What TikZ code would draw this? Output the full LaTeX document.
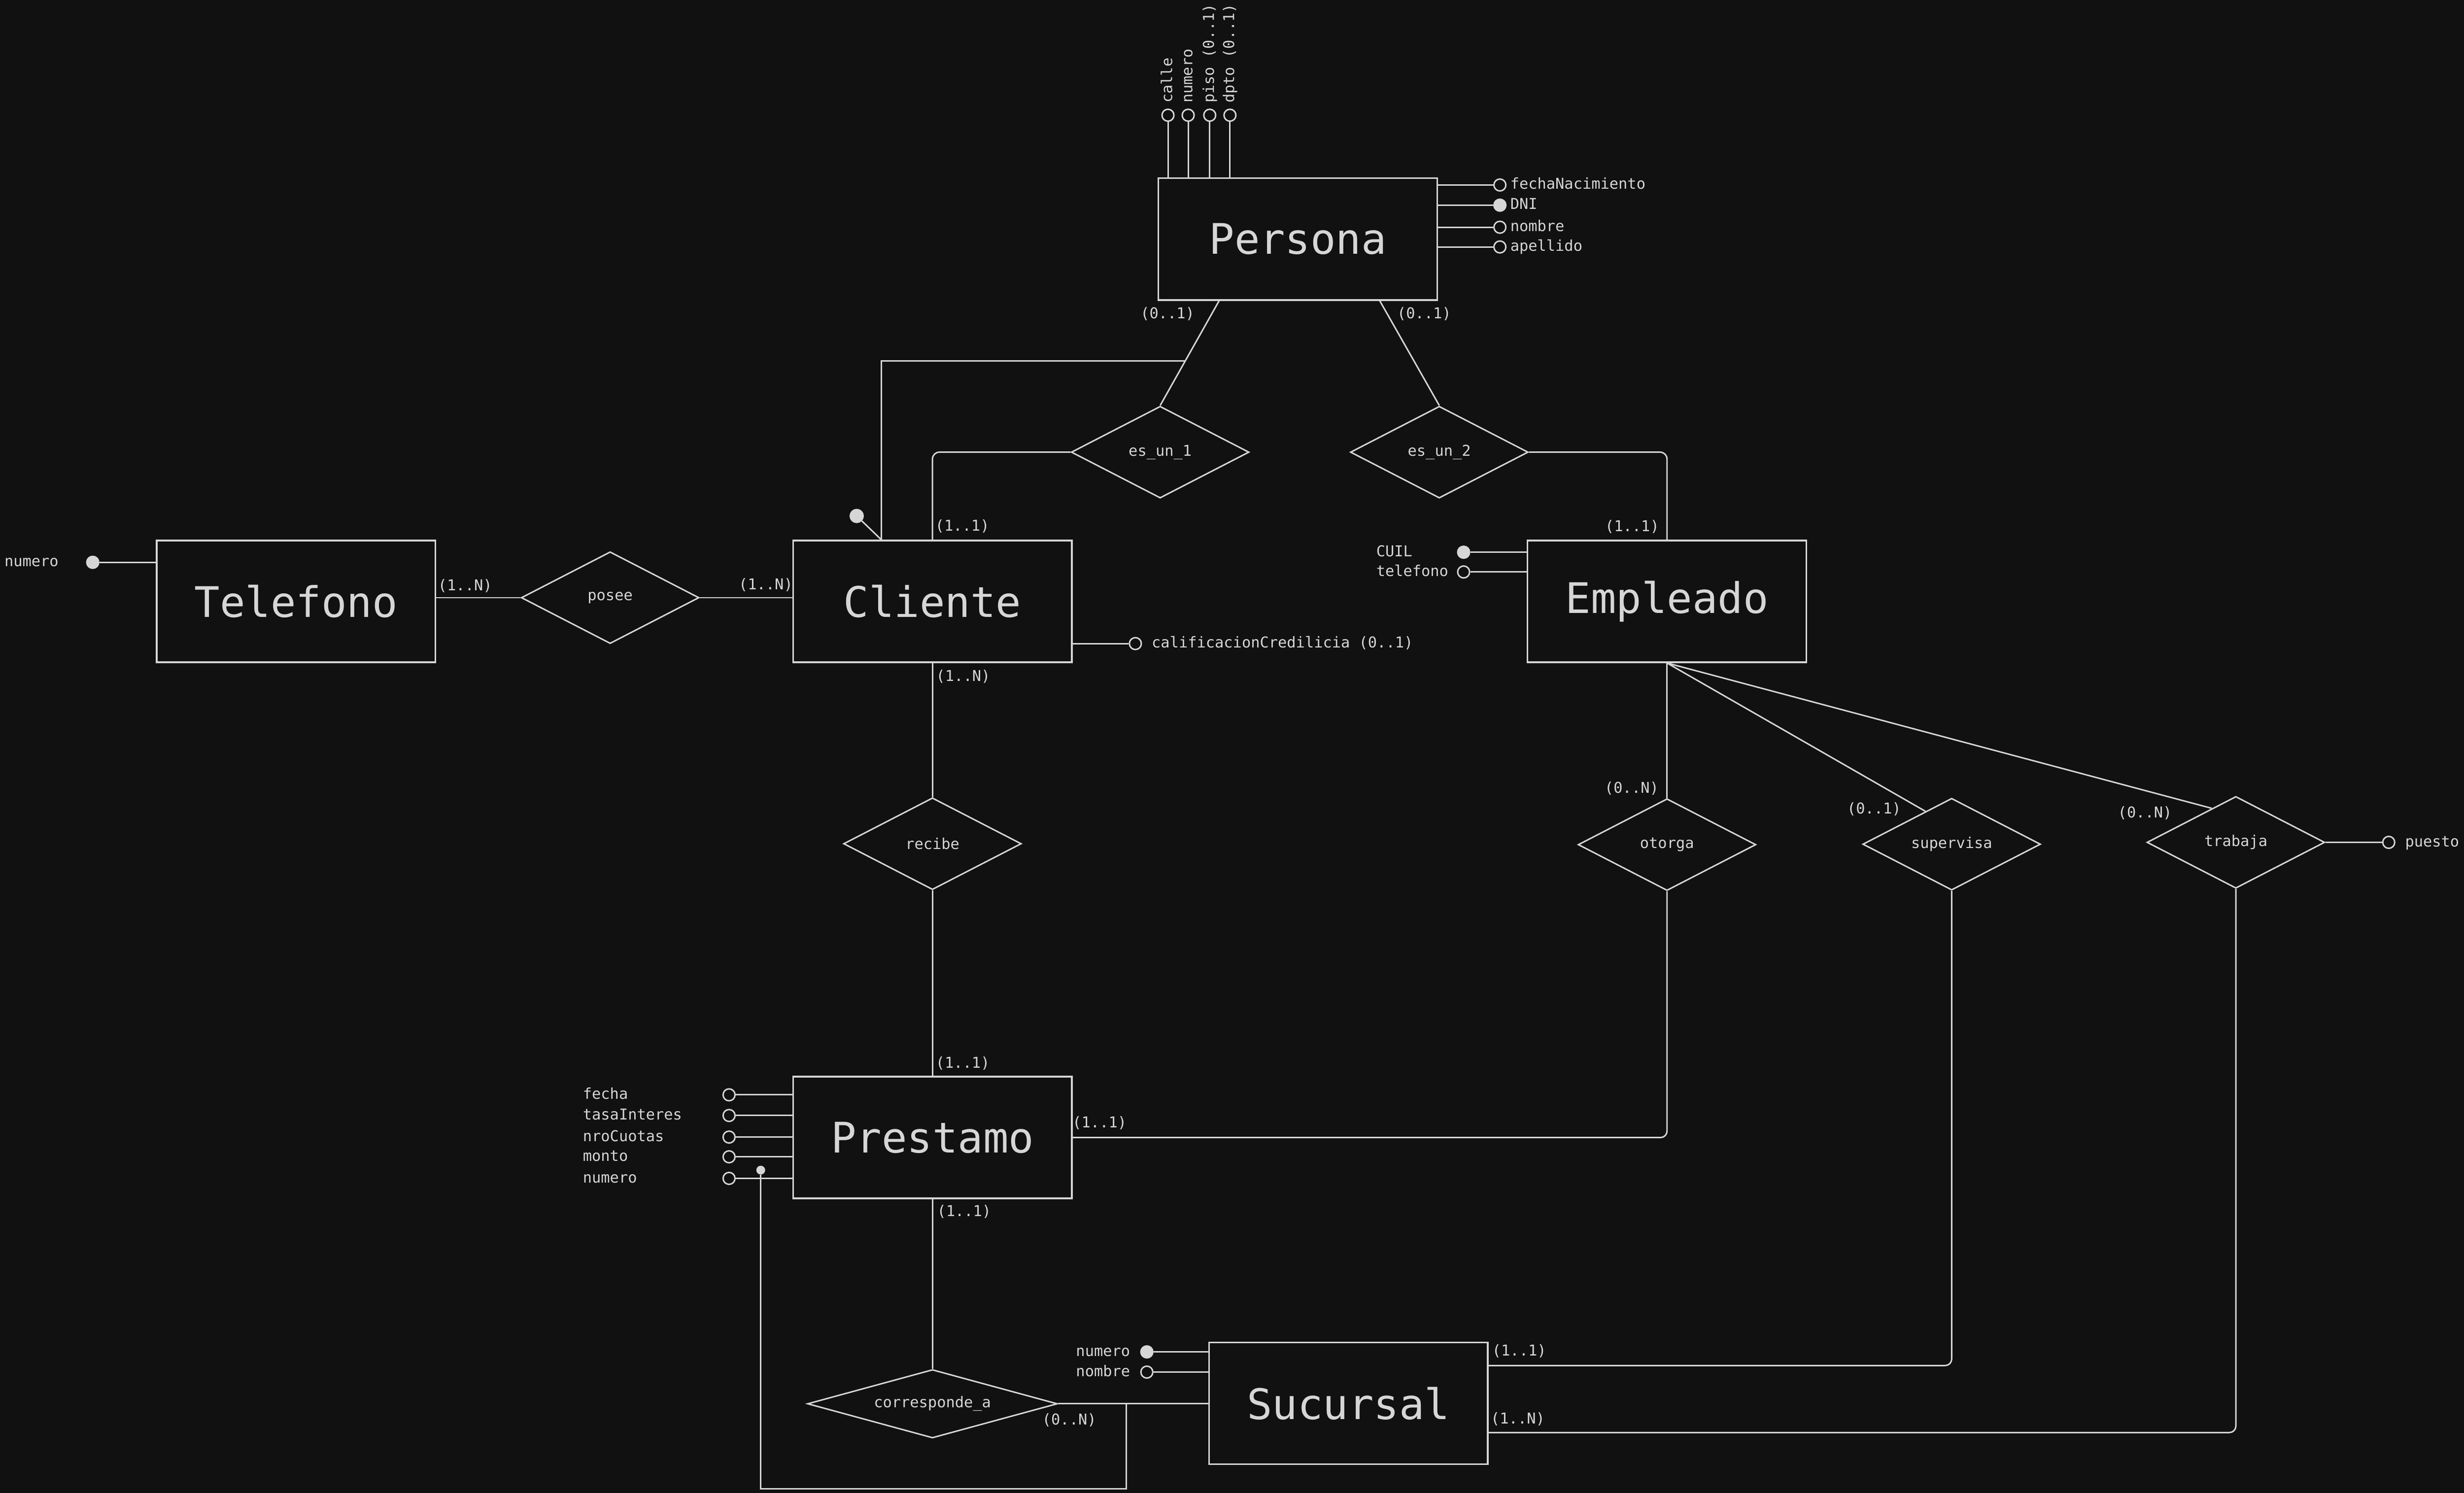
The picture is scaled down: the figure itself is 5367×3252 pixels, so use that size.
\documentclass[tikz,border=0pt]{standalone}
\usepackage{fontspec}
\newfontfamily\dm{DejaVu Sans Mono}
\usetikzlibrary{shapes.geometric,calc}
\definecolor{bg}{HTML}{111111}
\definecolor{fg}{HTML}{D6D6D6}
\begin{document}
\begin{tikzpicture}[x=0.01cm,y=-0.01cm,
  every node/.style={text=fg},
  line/.style={draw=fg, line width=0.9pt},
  entity/.style={draw=fg, line width=1pt, minimum width=6.07cm, minimum height=2.65cm, inner sep=0pt, font=\dm\fontsize{26.1pt}{30pt}\selectfont},
  rel/.style={diamond, aspect=2, draw=fg, line width=0.9pt, minimum width=3.87cm, minimum height=2cm, inner sep=0pt, font=\dm\fontsize{9.27pt}{11pt}\selectfont},
  lbl/.style={font=\dm\fontsize{9.27pt}{11pt}\selectfont, inner sep=0pt, text height=0.72em, text depth=0.2em},
  att/.style={circle, draw=fg, line width=0.9pt, minimum size=0.26cm, inner sep=0pt},
  key/.style={circle, draw=fg, fill=fg, line width=0.9pt, minimum size=0.26cm, inner sep=0pt},
]
\fill[bg] (0,0) rectangle (5367,3252);
\useasboundingbox (0,0) rectangle (5367,3252);

% entities
\node[entity] (persona) at (2827,521) {Persona};
\node[entity] (telefono) at (645,1310) {Telefono};
\node[entity] (cliente) at (2031,1310) {Cliente};
\node[entity] (empleado) at (3631,1310) {Empleado};
\node[entity] (prestamo) at (2031,2478) {Prestamo};
\node[entity] (sucursal) at (2937,3057) {Sucursal};

% relationships
\node[rel] (esun1) at (2527,985) {es\_un\_1};
\node[rel] (esun2) at (3135,985) {es\_un\_2};
\node[rel] (posee) at (1329,1302) {posee};
\node[rel] (recibe) at (2031,1838) {recibe};
\node[rel] (otorga) at (3631,1840) {otorga};
\node[rel] (supervisa) at (4251,1839) {supervisa};
\node[rel] (trabaja) at (4870,1835) {trabaja};
\node[rel, aspect=3.65, minimum width=5.44cm, minimum height=1.49cm] (corr) at (2031,3058) {corresponde\_a};

% connectors
\draw[line] (telefono.east |- posee.west) -- (posee.west);
\draw[line] (posee.east) -- (posee.east -| cliente.west);
\draw[line] (cliente.south) -- (recibe.north);
\draw[line] (recibe.south) -- (prestamo.north);
\draw[line] (prestamo.south) -- (corr.north);
\draw[line] (corr.east) -- (corr.east -| sucursal.west);

\coordinate (pl) at ($(persona.south west)!0.219!(persona.south east)$);
\coordinate (pr) at ($(persona.south west)!0.792!(persona.south east)$);
\draw[line] (pl) -- (esun1.north);
\draw[line] (pr) -- (esun2.north);
\draw[line, rounded corners=0.15cm] (esun1.west) -| (cliente.north);
\draw[line, rounded corners=0.15cm] (esun2.east) -| (empleado.north);

\coordinate (pj) at ($(pl)!0.572!(esun1.north)$);
\coordinate (ct) at ($(cliente.north west)+(194,0)$);
\draw[line] (pj) -| (ct);
\node[key, minimum size=0.28cm] (ckey) at (1866,1124) {};
\draw[line] (ckey) -- (ct);

\draw[line] (empleado.south) -- (otorga.north);
\coordinate (supin) at ($(supervisa.west)!0.706!(supervisa.north)$);
\coordinate (train) at ($(trabaja.west)!0.73!(trabaja.north)$);
\draw[line] (empleado.south) -- (supin);
\draw[line] (empleado.south) -- (train);
\draw[line, rounded corners=0.14cm] (prestamo.east) -| (otorga.south);
\coordinate (s1) at ($(sucursal.north east)+(0,52)$);
\coordinate (s2) at ($(sucursal.north east)+(0,198)$);
\draw[line, rounded corners=0.14cm] (s1) -| (supervisa.south);
\draw[line, rounded corners=0.14cm] (s2) -| (trabaja.south);

\node[key, minimum size=0.16cm] (pkey) at (1657,2549) {};
\coordinate (cb) at ($(corr.east)+(148,0)$);
\coordinate (cbb) at ($(cb)+(0,185)$);
\draw[line] (pkey) |- (cbb) -- (cb);

% Persona attributes (top)
\node[att] (pt1) at (2544,251) {};
\node[att] (pt2) at (2588,251) {};
\node[att] (pt3) at (2635,251) {};
\node[att] (pt4) at (2679,251) {};
\draw[line] (pt1) -- (pt1 |- persona.north);
\draw[line] (pt2) -- (pt2 |- persona.north);
\draw[line] (pt3) -- (pt3 |- persona.north);
\draw[line] (pt4) -- (pt4 |- persona.north);
\node[lbl, rotate=90, anchor=west] (lpt1) at (2544,225) {calle};
\node[lbl, rotate=90, anchor=west] (lpt2) at (2588,225) {numero};
\node[lbl, rotate=90, anchor=west] (lpt3) at (2635,225) {piso (0..1)};
\node[lbl, rotate=90, anchor=west] (lpt4) at (2679,225) {dpto (0..1)};

% Persona attributes (right)
\node[att] (pa1) at (3267,403) {};
\node[key] (pa2) at (3267,447) {};
\node[att] (pa3) at (3267,495) {};
\node[att] (pa4) at (3267,538) {};
\draw[line] (pa1) -- (pa1 -| persona.east);
\draw[line] (pa2) -- (pa2 -| persona.east);
\draw[line] (pa3) -- (pa3 -| persona.east);
\draw[line] (pa4) -- (pa4 -| persona.east);
\node[lbl, anchor=west] (lpa1) at (3289,403) {fechaNacimiento};
\node[lbl, anchor=west] (lpa2) at (3289,447) {DNI};
\node[lbl, anchor=west] (lpa3) at (3289,495) {nombre};
\node[lbl, anchor=west] (lpa4) at (3289,538) {apellido};

% Cliente attribute
\node[att] (ca) at (2473,1402) {};
\draw[line] (ca) -- (ca -| cliente.east);
\node[lbl, anchor=west] (lca) at (2508,1402) {calificacionCredilicia (0..1)};

% Telefono attribute
\node[key] (ta) at (202,1225) {};
\draw[line] (ta) -- (ta -| telefono.west);
\node[lbl, anchor=west] (lta) at (9,1225) {numero};

% Empleado attributes
\node[key] (ea1) at (3188,1203) {};
\node[att] (ea2) at (3188,1246) {};
\draw[line] (ea1) -- (ea1 -| empleado.west);
\draw[line] (ea2) -- (ea2 -| empleado.west);
\node[lbl, anchor=west] (lea1) at (2997,1203) {CUIL};
\node[lbl, anchor=west] (lea2) at (2997,1246) {telefono};

% Prestamo attributes
\node[att] (pra1) at (1588,2385) {};
\node[att] (pra2) at (1588,2430) {};
\node[att] (pra3) at (1588,2477) {};
\node[att] (pra4) at (1588,2520) {};
\node[att] (pra5) at (1588,2567) {};
\draw[line] (pra1) -- (pra1 -| prestamo.west);
\draw[line] (pra2) -- (pra2 -| prestamo.west);
\draw[line] (pra3) -- (pra3 -| prestamo.west);
\draw[line] (pra4) -- (pra4 -| prestamo.west);
\draw[line] (pra5) -- (pra5 -| prestamo.west);
\node[lbl, anchor=west] (lpra1) at (1269,2385) {fecha};
\node[lbl, anchor=west] (lpra2) at (1269,2430) {tasaInteres};
\node[lbl, anchor=west] (lpra3) at (1269,2477) {nroCuotas};
\node[lbl, anchor=west] (lpra4) at (1269,2520) {monto};
\node[lbl, anchor=west] (lpra5) at (1269,2567) {numero};

% Sucursal attributes
\node[key] (sa1) at (2498,2945) {};
\node[att] (sa2) at (2498,2989) {};
\draw[line] (sa1) -- (sa1 -| sucursal.west);
\draw[line] (sa2) -- (sa2 -| sucursal.west);
\node[lbl, anchor=west] (lsa1) at (2343,2945) {numero};
\node[lbl, anchor=west] (lsa2) at (2343,2989) {nombre};

% trabaja attribute
\node[att] (tra) at (5203,1835) {};
\draw[line] (trabaja.east) -- (tra);
\node[lbl, anchor=west] (ltra) at (5238,1835) {puesto};

% cardinalities
\node[lbl] (c1) at (2543,685) {(0..1)};
\node[lbl] (c2) at (3102,685) {(0..1)};
\node[lbl] (c3) at (2096,1147) {(1..1)};
\node[lbl] (c4) at (3555,1149) {(1..1)};
\node[lbl] (c5) at (1013,1277) {(1..N)};
\node[lbl] (c6) at (1668,1275) {(1..N)};
\node[lbl] (c7) at (2098,1475) {(1..N)};
\node[lbl] (c8) at (2097,2317) {(1..1)};
\node[lbl] (c9) at (2395,2447) {(1..1)};
\node[lbl] (c10) at (2100,2640) {(1..1)};
\node[lbl] (c11) at (2329,3095) {(0..N)};
\node[lbl] (c12) at (3309,2944) {(1..1)};
\node[lbl] (c13) at (3306,3092) {(1..N)};
\node[lbl] (c14) at (3554,1718) {(0..N)};
\node[lbl] (c15) at (4082,1764) {(0..1)};
\node[lbl] (c16) at (4672,1772) {(0..N)};
\end{tikzpicture}
\end{document}
